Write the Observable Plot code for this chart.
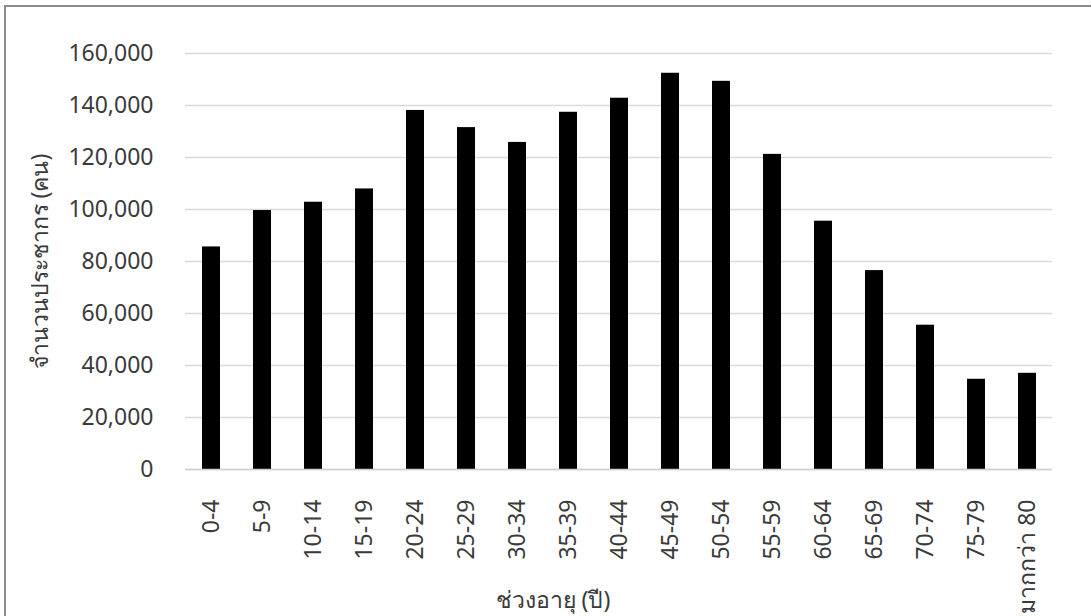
<!DOCTYPE html>
<html>
<head>
<meta charset="utf-8">
<script src="https://cdn.jsdelivr.net/npm/d3@7"></script>
<script src="https://cdn.jsdelivr.net/npm/@observablehq/plot@0.6"></script>
<style>
  html, body { margin: 0; padding: 0; background: #fff; overflow: hidden; }
  #wrap { position: relative; width: 1091px; height: 616px; }
  #border { position: absolute; left: 4px; top: 5px; width: 1100px; height: 630px;
            border: 2px solid #8c8c8c; box-sizing: border-box; pointer-events: none; }
</style>
</head>
<body>
<div id="wrap"><div id="border"></div></div>
<script>
const ageGroups = ["0-4","5-9","10-14","15-19","20-24","25-29","30-34","35-39","40-44","45-49","50-54","55-59","60-64","65-69","70-74","75-79","มากกว่า 80"];
const population = [85600, 99600, 102800, 107900, 138100, 131500, 125800, 137400, 142800, 152400, 149300, 121200, 95500, 76500, 55500, 34700, 37000];
const yTicks = [0, 20000, 40000, 60000, 80000, 100000, 120000, 140000, 160000];
const xTitle = "ช่วงอายุ (ปี)";
const yTitle = "จำนวนประชากร (คน)";

const data = ageGroups.map((g, i) => ({group: g, value: population[i]}));
const fmt = d3.format(",");
const font = "'Noto Sans', 'Open Sans', sans-serif";
const fs = 23;

const chart = Plot.plot({
  width: 1091,
  height: 616,
  marginLeft: 185,
  marginRight: 39,
  marginTop: 53,
  marginBottom: 147,
  style: {fontFamily: font, fontSize: fs + "px", color: "#333", background: "transparent"},
  x: {domain: ageGroups, paddingInner: 0.653, paddingOuter: 0.3265, label: null, axis: null},
  y: {domain: [0, 160000], ticks: yTicks, label: null, axis: null},
  marks: [
    Plot.gridY(yTicks, {stroke: "#d9d9d9", strokeOpacity: 1, strokeWidth: 1.3}),
    Plot.barY(data, {x: "group", y: "value", fill: "#000"}),
    Plot.ruleY([0], {stroke: "#d0d0d0", strokeWidth: 1.5}),
    Plot.axisY(yTicks, {tickSize: 0, tickPadding: 32, tickFormat: fmt, fontSize: fs, fill: "#3a3a3a", label: null}),
    Plot.axisX({tickSize: 0, tickRotate: -90, tickPadding: 30, fontSize: fs, fill: "#3a3a3a", label: null}),
    Plot.text([xTitle], {frameAnchor: "bottom", dx: -66, dy: 138, fontSize: fs, fill: "#3a3a3a", textAnchor: "middle"}),
    Plot.text([yTitle], {frameAnchor: "left", dx: -145, dy: 0, rotate: -90, fontSize: fs, fill: "#3a3a3a", textAnchor: "middle"})
  ]
});
document.getElementById("wrap").prepend(chart);
</script>
</body>
</html>
